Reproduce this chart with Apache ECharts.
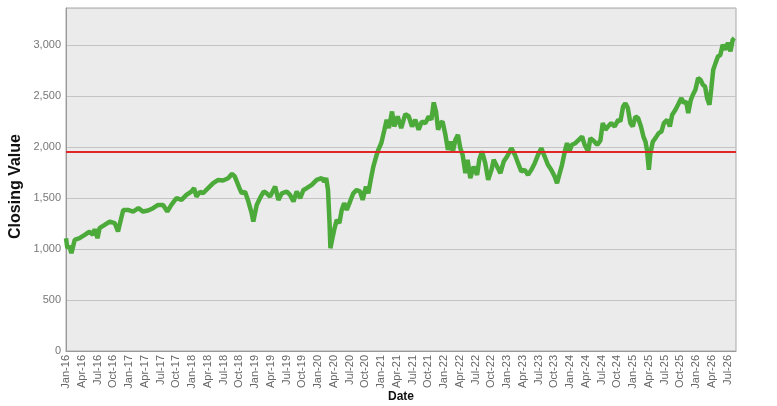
<!DOCTYPE html>
<html>
<head>
<meta charset="utf-8">
<script src="https://cdn.jsdelivr.net/npm/echarts@6/dist/echarts.min.js"></script>
<style>
html,body{margin:0;padding:0;background:#ffffff;}
#chart{width:777px;height:406px;}
</style>
</head>
<body>
<div id="chart"></div>
<script>
var dates = [
'2016-01-01','2016-01-09','2016-01-20','2016-02-02','2016-02-20','2016-03-19','2016-04-18','2016-05-16','2016-06-05','2016-06-15',
'2016-07-01','2016-07-13','2016-08-12','2016-09-11','2016-10-10','2016-10-29','2016-11-14','2016-11-28','2016-12-26','2017-01-25',
'2017-02-23','2017-03-22','2017-04-20','2017-05-19','2017-06-17','2017-07-16','2017-08-10','2017-09-03','2017-10-02','2017-11-01',
'2017-11-29','2017-12-28','2018-01-13','2018-01-27','2018-02-16','2018-03-04','2018-04-03','2018-05-02','2018-06-01','2018-06-28',
'2018-07-28','2018-08-20','2018-09-05','2018-10-02','2018-10-16','2018-11-04','2018-11-23','2018-12-12','2018-12-22','2019-01-11',
'2019-01-30','2019-02-19','2019-03-08','2019-03-28','2019-04-26','2019-05-15','2019-06-04','2019-07-02','2019-07-22','2019-08-11',
'2019-08-30','2019-09-19','2019-10-08','2019-10-27','2019-11-25','2019-12-24','2020-01-22','2020-02-06','2020-02-17','2020-02-27',
'2020-03-07','2020-03-12','2020-03-22','2020-04-03','2020-04-18','2020-05-03','2020-05-17','2020-05-31','2020-06-15','2020-07-04',
'2020-07-23','2020-08-12','2020-09-01','2020-09-16','2020-10-05','2020-10-19','2020-11-02','2020-11-17','2020-12-03','2020-12-16',
'2021-01-03','2021-01-21','2021-02-03','2021-02-15','2021-03-04','2021-03-17','2021-04-06','2021-04-26','2021-05-20','2021-06-09',
'2021-06-28','2021-07-17','2021-08-06','2021-08-25','2021-09-14','2021-10-03','2021-10-19','2021-11-02','2021-11-15','2021-11-27',
'2021-12-10','2021-12-23','2022-01-09','2022-01-24','2022-02-07','2022-02-20','2022-03-06','2022-03-21','2022-04-04','2022-04-17',
'2022-05-03','2022-05-16','2022-06-01','2022-06-20','2022-07-10','2022-07-23','2022-08-08','2022-08-27','2022-09-13','2022-10-02',
'2022-10-15','2022-11-04','2022-11-23','2022-12-12','2023-01-01','2023-01-26','2023-02-15','2023-03-04','2023-03-23','2023-04-12',
'2023-05-01','2023-05-20','2023-06-09','2023-06-28','2023-07-17','2023-08-06','2023-08-25','2023-09-14','2023-10-03','2023-10-17',
'2023-11-02','2023-11-15','2023-12-01','2023-12-14','2023-12-29','2024-01-12','2024-02-01','2024-02-20','2024-03-10','2024-03-25',
'2024-04-14','2024-04-27','2024-05-16','2024-06-06','2024-06-24','2024-07-08','2024-07-23','2024-08-08','2024-08-27','2024-09-16',
'2024-10-06','2024-10-19','2024-11-04','2024-11-17','2024-12-01','2024-12-16','2024-12-30','2025-01-15','2025-01-31','2025-02-15',
'2025-02-28','2025-03-12','2025-03-21','2025-04-01','2025-04-10','2025-04-24','2025-05-09','2025-05-28','2025-06-13','2025-06-27',
'2025-07-16','2025-08-01','2025-08-15','2025-09-03','2025-09-22','2025-10-07','2025-10-21','2025-11-04','2025-11-16','2025-12-01',
'2025-12-13','2025-12-28','2026-01-13','2026-01-27','2026-02-09','2026-02-21','2026-03-04','2026-03-18','2026-03-29','2026-04-09',
'2026-04-22','2026-05-06','2026-05-20','2026-06-03','2026-06-18','2026-07-03','2026-07-18','2026-07-31','2026-08-10'
];
var closes = [
1105,1007,1030,958,1088,1105,1137,1170,1137,1193,
1105,1203,1235,1268,1252,1170,1284,1382,1382,1366,
1399,1366,1376,1399,1431,1431,1366,1431,1497,1480,
1529,1562,1595,1513,1560,1545,1595,1644,1676,1670,
1693,1735,1710,1595,1545,1560,1464,1350,1268,1431,
1497,1562,1545,1513,1611,1480,1545,1562,1529,1464,
1562,1497,1578,1595,1627,1676,1693,1660,1693,1578,
1252,1007,1089,1186,1284,1252,1382,1448,1382,1464,
1545,1578,1562,1480,1611,1545,1676,1807,1905,1971,
2040,2167,2265,2183,2346,2199,2297,2183,2320,2300,
2199,2265,2167,2248,2232,2297,2265,2435,2346,2167,
2232,2248,2118,1971,2052,1955,2069,2118,1987,1922,
1742,1873,1693,1807,1725,1873,1955,1840,1676,1774,
1873,1807,1742,1856,1905,1987,1922,1840,1758,1774,
1725,1774,1840,1922,1987,1905,1824,1774,1709,1644,
1742,1824,1955,2036,1960,2020,2036,2069,2101,2020,
1954,2085,2060,2020,2060,2232,2167,2199,2232,2199,
2265,2250,2395,2428,2380,2232,2199,2297,2280,2199,
2101,2052,1971,1775,1938,2052,2085,2134,2150,2232,
2265,2199,2314,2363,2428,2477,2428,2445,2330,2460,
2510,2559,2673,2657,2608,2590,2477,2412,2575,2755,
2820,2886,2900,3000,2951,3020,2935,3049,3065
];
var referenceLevel = 1955;
var quarterNames = ['Jan','Apr','Jul','Oct'];
var startYear = 2016;

function monthIndex(s) {
  var p = s.split('-');
  var y = +p[0], m = +p[1], d = +p[2];
  var dim = new Date(y, m, 0).getDate();
  return (y - startYear) * 12 + (m - 1) + (d - 1) / dim;
}
var seriesData = dates.map(function (d, i) { return [monthIndex(d), closes[i]]; });

var chart = echarts.init(document.getElementById('chart'), null, {renderer: 'canvas'});
chart.setOption({
  animation: false,
  backgroundColor: '#ffffff',
  grid: {
    left: 66, right: 41, top: 8, bottom: 55,
    outerBoundsMode: 'none', containLabel: false,
    show: true, backgroundColor: '#ebebeb', borderColor: '#a8a8a8', borderWidth: 1
  },
  xAxis: {
    type: 'value',
    min: 0, max: 127.6, interval: 3,
    name: 'Date', nameLocation: 'middle', nameGap: 40, nameMoveOverlap: false,
    nameTextStyle: {fontFamily: 'Liberation Sans', fontWeight: 'bold', fontSize: 12, color: '#111'},
    axisLine: {show: true, lineStyle: {color: '#999', width: 1}},
    axisTick: {show: false},
    splitLine: {show: false},
    axisLabel: {
      rotate: 90, fontFamily: 'Liberation Sans', fontSize: 11, color: '#666', margin: 4,
      showMaxLabel: false,
      formatter: function (v) {
        var m = Math.round(v);
        var y = startYear + Math.floor(m / 12);
        return quarterNames[(m % 12) / 3] + '-' + String(y).slice(2);
      }
    }
  },
  yAxis: {
    type: 'value',
    min: 0, max: 3360, interval: 500,
    name: 'Closing Value', nameLocation: 'middle', nameGap: 42, nameMoveOverlap: false,
    nameTextStyle: {fontFamily: 'Liberation Sans', fontWeight: 'bold', fontSize: 16, color: '#111', padding: [0, 14, 0, 0]},
    axisLine: {show: true, lineStyle: {color: '#999', width: 1}},
    axisTick: {show: false},
    splitLine: {show: true, lineStyle: {color: '#c4c4c4', width: 1}},
    axisLabel: {
      fontFamily: 'Liberation Sans', fontSize: 11, color: '#777', margin: 5,
      showMaxLabel: false,
      formatter: function (v) { return v.toLocaleString('en-US'); }
    }
  },
  series: [{
    type: 'line',
    data: seriesData,
    showSymbol: false,
    smooth: false,
    lineStyle: {color: '#4caa3a', width: 4.5},
    z: 3,
    markLine: {
      silent: true, symbol: 'none', label: {show: false},
      lineStyle: {color: '#e02828', width: 2, type: 'solid'},
      data: [{yAxis: referenceLevel}]
    }
  }]
});
</script>
</body>
</html>
